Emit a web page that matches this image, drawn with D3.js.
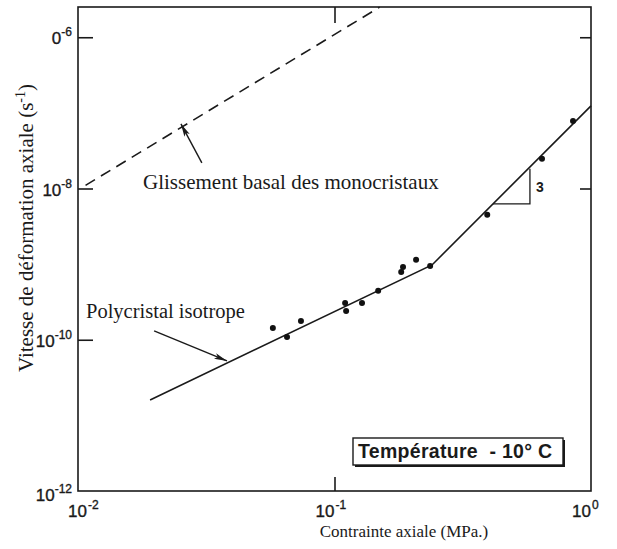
<!DOCTYPE html>
<html>
<head>
<meta charset="utf-8">
<title>Vitesse de déformation axiale - glace</title>
<script src="https://d3js.org/d3.v7.min.js"></script>
<style>
body { margin: 0; background: #fff; }
.frame { fill: none; stroke: #1a1a1a; stroke-width: 1.6px; }
.line { fill: none; stroke: #1a1a1a; stroke-width: 1.6px; }
.serif { font-family: "Liberation Serif", "Times New Roman", serif; fill: #1a1a1a; }
.sans { font-family: "Liberation Sans", Arial, sans-serif; fill: #1a1a1a; }
.tick-label { stroke: #1a1a1a; stroke-width: 0.35px; }
</style>
</head>
<body>
<div id="chart"></div>
<script>
// measured points : contrainte (MPa) / vitesse (s-1)
var stress = [0.0575, 0.0653, 0.0740, 0.110, 0.111, 0.128, 0.148, 0.182, 0.185, 0.208, 0.236, 0.394, 0.644, 0.851];
var rate   = [1.43e-10, 1.09e-10, 1.77e-10, 3.07e-10, 2.40e-10, 3.07e-10, 4.43e-10, 7.89e-10, 9.19e-10, 1.14e-9, 9.46e-10, 4.48e-9, 2.47e-8, 7.83e-8];

// polycristal isotrope (two segments)
var polyX = [0.0191, 0.240, 1.0];
var polyY = [1.6e-11, 9.75e-10, 1.24e-7];

// glissement basal des monocristaux (dashed)
var basalX = [0.0107, 0.150];
var basalY = [1.1e-8, 2.5e-6];

// slope triangle, n = 3
var triX = [0.415, 0.578, 0.578];
var triY = [6.25e-9, 6.25e-9, 1.82e-8];

// annotation arrows (tail -> head)
var arrowBasalX = [0.0304, 0.0252];
var arrowBasalY = [2.18e-8, 7.15e-8];
var arrowPolyX = [0.0198, 0.0381];
var arrowPolyY = [1.31e-10, 5.25e-11];

// tick labels
var xTicks = [0.01, 0.1, 1];
var xTickExp = ["-2", "-1", "0"];
var yTicks = [1e-6, 1e-8, 1e-10, 1e-12];
var yTickBase = ["0", "10", "10", "10"];
var yTickExp = ["-6", "-8", "-10", "-12"];

var W = 617, H = 549;
var padL = 78, padR = 591, padT = 7, padB = 491;

var x = d3.scaleLog().domain([0.01, 1]).range([padL, padR]);
var y = d3.scaleLog().domain([1e-12, Math.pow(10, -5.6)]).range([padB, padT]);

var svg = d3.select("#chart").append("svg")
    .attr("width", W)
    .attr("height", H)
    .style("background", "#fff");

svg.append("defs").append("marker")
    .attr("id", "head")
    .attr("markerUnits", "userSpaceOnUse")
    .attr("viewBox", "0 0 13 6")
    .attr("refX", 13).attr("refY", 3)
    .attr("markerWidth", 13).attr("markerHeight", 6)
    .attr("orient", "auto")
  .append("path")
    .attr("d", "M0,0 L13,3 L0,6 L3,3 z")
    .attr("fill", "#1a1a1a");

// frame
svg.append("rect")
    .attr("class", "frame")
    .attr("x", padL).attr("y", padT)
    .attr("width", padR - padL).attr("height", padB - padT);

// inward ticks
function styleAxis(g) {
  g.select(".domain").remove();
  g.selectAll("line").attr("stroke", "#1a1a1a").attr("stroke-width", 1.6);
}
svg.append("g").attr("transform", "translate(" + padL + ",0)")
    .call(d3.axisLeft(y).tickValues(yTicks.slice(0, 3)).tickSize(-15).tickFormat(""))
    .call(styleAxis);
svg.append("g").attr("transform", "translate(" + padR + ",0)")
    .call(d3.axisRight(y).tickValues(yTicks.slice(0, 2)).tickSize(-11).tickFormat(""))
    .call(styleAxis);
svg.append("g").attr("transform", "translate(0," + padB + ")")
    .call(d3.axisBottom(x).tickValues([0.1]).tickSize(-14).tickFormat(""))
    .call(styleAxis);
svg.append("g").attr("transform", "translate(0," + padT + ")")
    .call(d3.axisTop(x).tickValues([0.1]).tickSize(-16).tickFormat(""))
    .call(styleAxis);

// y tick labels
yTicks.forEach(function(v, i) {
  var t = svg.append("text")
      .attr("class", "sans tick-label")
      .attr("text-anchor", "end")
      .attr("x", padL - 6)
      .attr("y", y(v) + (i === 3 ? 10 : 7))
      .style("font-size", "17px");
  t.append("tspan").text(yTickBase[i]);
  t.append("tspan").attr("dy", -8).style("font-size", "12px").text(yTickExp[i]);
});

// x tick labels
xTicks.forEach(function(v, i) {
  var px = x(v) + (i === 0 ? 9 : 0);
  svg.append("text")
      .attr("class", "sans tick-label")
      .attr("text-anchor", "end")
      .attr("x", px)
      .attr("y", 517)
      .style("font-size", "17px")
      .text("10");
  svg.append("text")
      .attr("class", "sans tick-label")
      .attr("x", px + 1)
      .attr("y", 509)
      .style("font-size", "12px")
      .text(xTickExp[i]);
});

// axis titles
svg.append("text")
    .attr("class", "serif")
    .attr("text-anchor", "middle")
    .attr("x", 404).attr("y", 537)
    .style("font-size", "17px")
    .text("Contrainte axiale (MPa.)");

var yt = svg.append("text")
    .attr("class", "serif")
    .attr("text-anchor", "middle")
    .attr("transform", "translate(33,228) rotate(-90)")
    .style("font-size", "21px");
yt.append("tspan").text("Vitesse de déformation axiale (s");
yt.append("tspan").attr("dy", -8).style("font-size", "14px").text("-1");
yt.append("tspan").attr("dy", 8).text(")");

// lines
var line = d3.line()
    .x(function(d) { return x(d[0]); })
    .y(function(d) { return y(d[1]); });

svg.append("path")
    .datum(polyX.map(function(v, i) { return [v, polyY[i]]; }))
    .attr("class", "line")
    .attr("d", line);

svg.append("path")
    .datum(basalX.map(function(v, i) { return [v, basalY[i]]; }))
    .attr("class", "line")
    .attr("stroke-dasharray", "11,7")
    .attr("d", line);

svg.append("path")
    .datum(triX.map(function(v, i) { return [v, triY[i]]; }))
    .attr("class", "line")
    .style("stroke-width", "1.3px")
    .attr("d", line);

// data points
svg.selectAll("circle.pt")
    .data(stress.map(function(v, i) { return [v, rate[i]]; }))
  .enter().append("circle")
    .attr("class", "pt")
    .attr("cx", function(d) { return x(d[0]); })
    .attr("cy", function(d) { return y(d[1]); })
    .attr("r", 3)
    .attr("fill", "#111");

// arrows
[[arrowBasalX, arrowBasalY], [arrowPolyX, arrowPolyY]].forEach(function(a) {
  svg.append("path")
      .datum(a[0].map(function(v, i) { return [v, a[1][i]]; }))
      .attr("class", "line")
      .style("stroke-width", "1.4px")
      .attr("marker-end", "url(#head)")
      .attr("d", line);
});

// annotations
svg.append("text")
    .attr("class", "serif")
    .attr("x", 143).attr("y", 189)
    .style("font-size", "21px")
    .text("Glissement basal des monocristaux");

svg.append("text")
    .attr("class", "serif")
    .attr("x", 86).attr("y", 318)
    .style("font-size", "20.5px")
    .text("Polycristal isotrope");

svg.append("text")
    .attr("class", "sans")
    .attr("x", x(triX[1]) + 6).attr("y", 192)
    .style("font-size", "14px")
    .style("font-weight", "bold")
    .text("3");

// temperature box
svg.append("rect")
    .attr("x", 355).attr("y", 440)
    .attr("width", 210).attr("height", 27)
    .attr("fill", "#1a1a1a");
svg.append("rect")
    .attr("x", 353).attr("y", 438)
    .attr("width", 210).attr("height", 27)
    .attr("fill", "#fff")
    .attr("stroke", "#1a1a1a")
    .attr("stroke-width", 1.4);
svg.append("text")
    .attr("class", "sans")
    .attr("x", 358).attr("y", 458)
    .style("font-size", "19.5px")
    .style("font-weight", "bold")
    .style("letter-spacing", "0.3px")
    .style("white-space", "pre")
    .text("Température  - 10° C");
</script>
</body>
</html>
